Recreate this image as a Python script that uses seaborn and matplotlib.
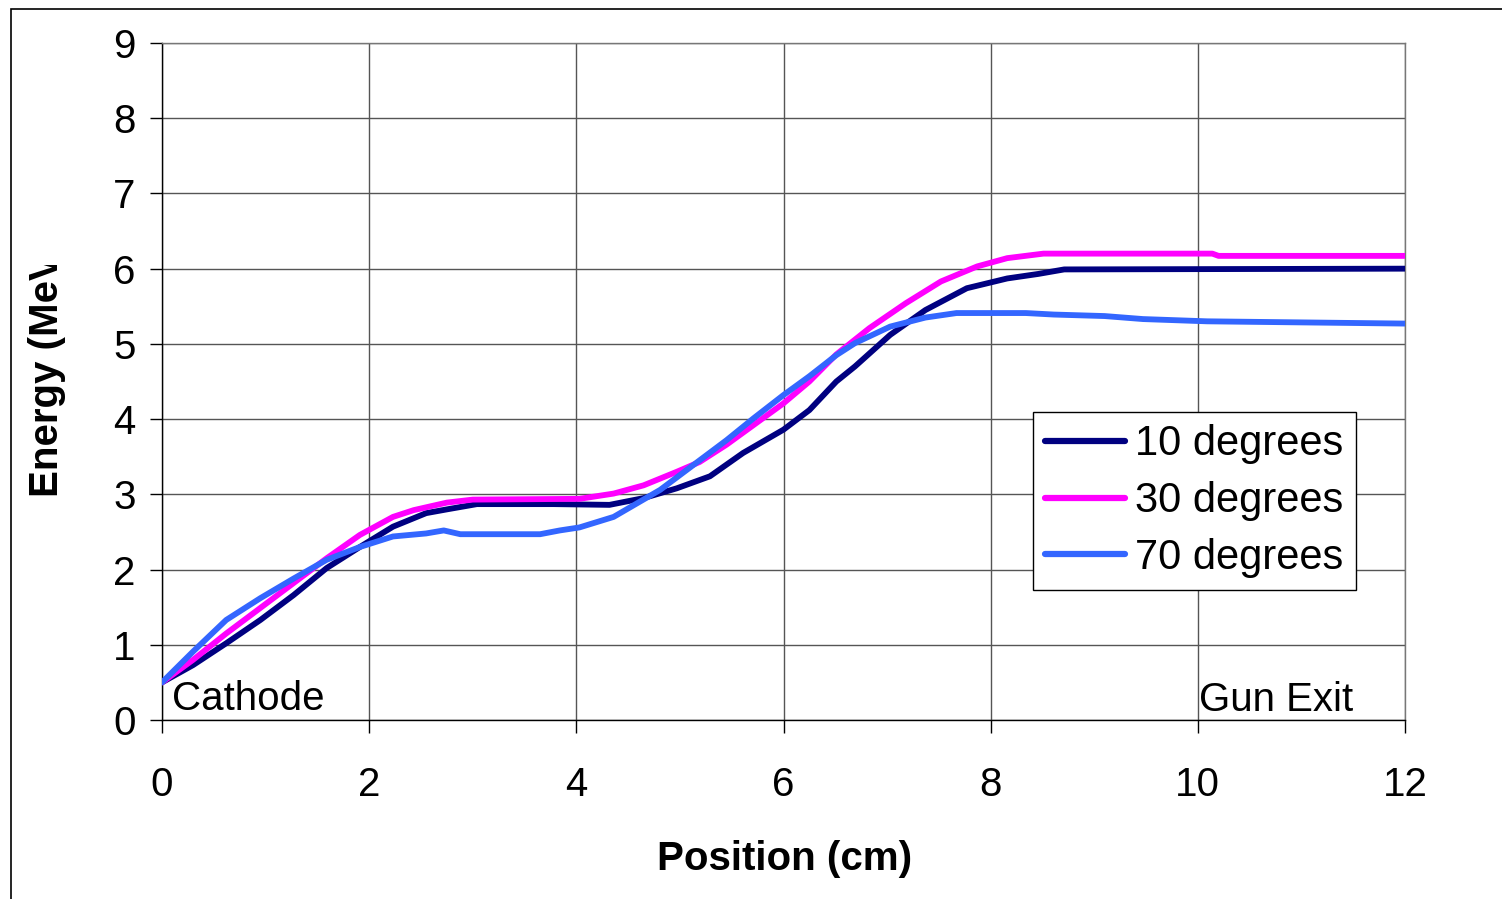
"""
Energy vs position along the gun for three launch phases.
"""

import matplotlib
matplotlib.use("Agg")
import matplotlib.pyplot as plt
from matplotlib.patches import Rectangle
from matplotlib.transforms import Bbox
import seaborn as sns
import pandas as pd


# data
x_10 = [0, 0.3, 0.62, 0.95, 1.27, 1.59, 1.91, 2.23, 2.55, 2.75, 3.04, 3.78, 4.32,
        4.65, 4.97, 5.29, 5.61, 6.0, 6.25, 6.51, 6.69, 7.03, 7.37, 7.77, 8.16,
        8.46, 8.71, 12]
e_10 = [0.5, 0.73, 1.02, 1.33, 1.66, 2.02, 2.30, 2.57, 2.75, 2.80, 2.87, 2.87, 2.86,
        2.95, 3.08, 3.24, 3.55, 3.86, 4.12, 4.50, 4.70, 5.12, 5.45, 5.74, 5.87,
        5.93, 5.99, 6.0]

x_30 = [0, 0.3, 0.62, 0.95, 1.27, 1.59, 1.91, 2.23, 2.43, 2.75, 3.0, 4.03, 4.36,
        4.65, 4.97, 5.19, 5.45, 5.71, 6.0, 6.25, 6.51, 6.83, 7.18, 7.52, 7.87,
        8.16, 8.51, 10.14, 10.2, 12]
e_30 = [0.5, 0.80, 1.15, 1.49, 1.82, 2.15, 2.46, 2.70, 2.79, 2.89, 2.93, 2.94, 3.01,
        3.12, 3.30, 3.43, 3.66, 3.92, 4.21, 4.50, 4.86, 5.21, 5.54, 5.83, 6.03,
        6.14, 6.20, 6.20, 6.17, 6.17]

x_70 = [0, 0.3, 0.62, 0.95, 1.27, 1.59, 1.91, 2.23, 2.55, 2.72, 2.88, 3.65, 3.84,
        4.03, 4.36, 4.61, 4.81, 5.13, 5.45, 5.71, 6.0, 6.25, 6.51, 6.69, 7.03,
        7.37, 7.67, 8.34, 8.61, 9.1, 9.47, 10.09, 12]
e_70 = [0.5, 0.91, 1.33, 1.62, 1.88, 2.13, 2.30, 2.44, 2.48, 2.52, 2.47, 2.47, 2.52,
        2.56, 2.70, 2.90, 3.06, 3.39, 3.72, 4.01, 4.32, 4.57, 4.85, 5.01, 5.23,
        5.35, 5.41, 5.41, 5.39, 5.37, 5.33, 5.30, 5.27]

series_names = ['10 degrees', '30 degrees', '70 degrees']
series_colors = ['#000080', '#FF00FF', '#3366FF']
x_ticks = [0, 2, 4, 6, 8, 10, 12]
y_ticks = [0, 1, 2, 3, 4, 5, 6, 7, 8, 9]

df = pd.concat([
    pd.DataFrame({'Position': x_10, 'Energy': e_10, 'Phase': series_names[0]}),
    pd.DataFrame({'Position': x_30, 'Energy': e_30, 'Phase': series_names[1]}),
    pd.DataFrame({'Position': x_70, 'Energy': e_70, 'Phase': series_names[2]}),
], ignore_index=True)

sns.set_style("white")
plt.rcParams['font.family'] = ['Liberation Sans', 'DejaVu Sans']
plt.rcParams['text.color'] = 'black'
plt.rcParams['axes.labelcolor'] = 'black'
plt.rcParams['xtick.color'] = 'black'
plt.rcParams['ytick.color'] = 'black'

fig = plt.figure(figsize=(15.02, 8.99), dpi=100)
ax = fig.add_axes([162 / 1502, 1 - 720 / 899, 1243 / 1502, 677 / 899])

sns.lineplot(data=df, x='Position', y='Energy', hue='Phase',
             palette=dict(zip(series_names, series_colors)),
             estimator=None, sort=False, linewidth=4.2, ax=ax, zorder=3)

ax.set_xlim(0, 12)
ax.set_ylim(0, 9)
ax.set_xticks(x_ticks)
ax.set_yticks(y_ticks)
ax.set_xlabel('')
ax.set_ylabel('')
ax.grid(True, color='#555555', linewidth=1.0)
ax.set_axisbelow(True)

ax.spines['left'].set_color('black')
ax.spines['bottom'].set_color('black')
ax.spines['top'].set_color('#777777')
ax.spines['right'].set_color('#777777')
for s in ax.spines.values():
    s.set_linewidth(1.0)

ax.tick_params(axis='y', direction='out', length=9, width=1, pad=10,
               labelsize=29, left=True, colors='black')
ax.tick_params(axis='x', direction='out', length=9, width=1, pad=24,
               labelsize=29, bottom=True, colors='black')

ax.text(0.1, 0.13, 'Cathode', fontsize=29, ha='left', va='baseline')
ax.text(10.01, 0.12, 'Gun Exit', fontsize=29, ha='left', va='baseline')

leg = ax.legend(loc='upper left', bbox_to_anchor=(0.7007, 0.455),
                borderaxespad=0, fontsize=30, frameon=True, fancybox=False,
                framealpha=1, edgecolor='black', handlelength=1.9,
                handletextpad=0.25, borderpad=0.3, labelspacing=0.4,
                title=None)
leg.get_frame().set_linewidth(1.0)
for h in leg.get_lines():
    h.set_linewidth(4.5)

fig.text(785 / 1502, 1 - 870 / 899, 'Position (cm)', fontsize=29,
         fontweight='bold', ha='center', va='baseline')

ylab = fig.text(47 / 1502, 1 - 497 / 899, 'Energy (MeV)', fontsize=29,
                fontweight='bold', ha='center', va='bottom', rotation=90)
ylab.set_clip_on(True)
ylab.set_clip_box(Bbox.from_extents(0, 0, 1502, 899 - 265))

fig.add_artist(Rectangle((11 / 1502, -0.05), 1.0, 1.05 - 9 / 899,
                         transform=fig.transFigure, fill=False,
                         edgecolor='black', linewidth=1.2))

fig.savefig('out.png', dpi=100)
